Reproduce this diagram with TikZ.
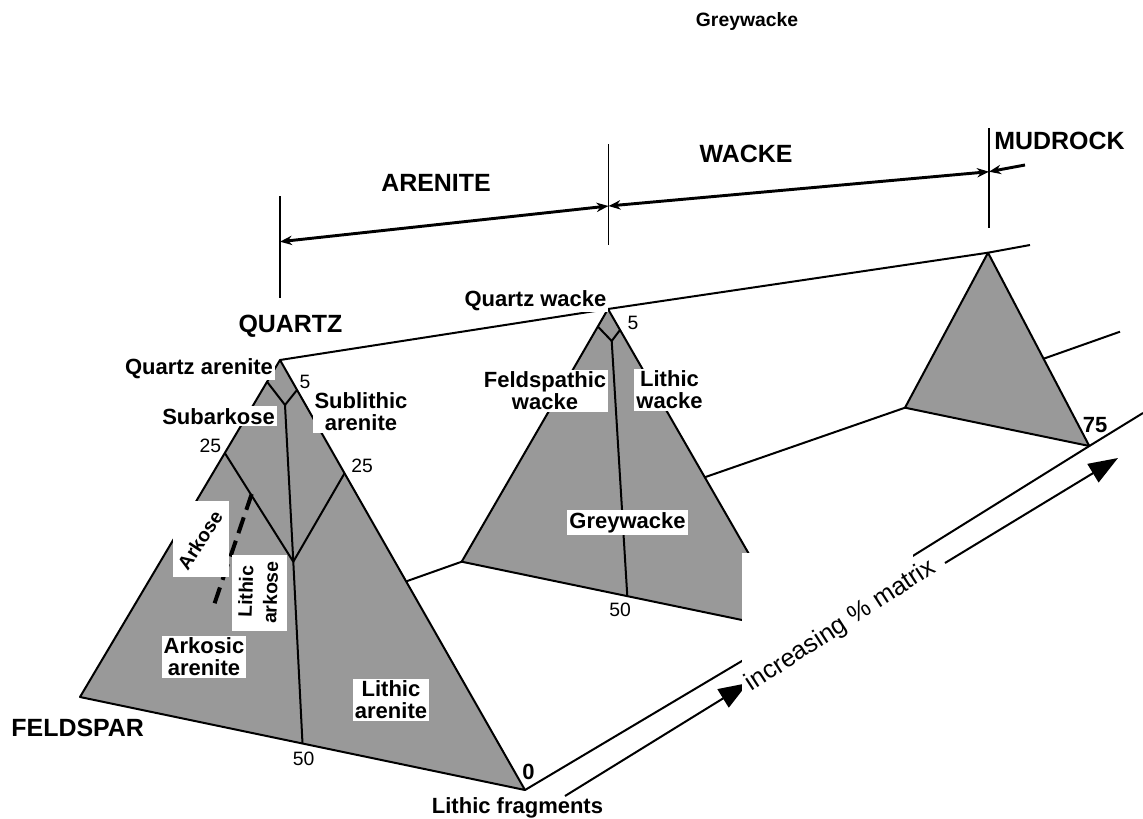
\documentclass[tikz,border=0pt]{standalone}
\usepackage{fontspec}
\setmainfont{Liberation Sans}
\usetikzlibrary{arrows.meta}
\definecolor{trigray}{HTML}{999999}
\begin{document}
\begin{tikzpicture}[x=0.75pt,y=-0.75pt,
  edge/.style={line width=1.5pt, line join=round},
  tri/.style={fill=trigray, draw=black, line width=1.5pt, line join=round},
  vline/.style={line width=1.1pt},
  harrow/.style={line width=2.2pt},
  bigarrow/.style={line width=1.5pt, -{Triangle[length=22pt,width=16pt]}},
  big/.style={font=\fontsize{18.7}{20}\selectfont\bfseries, inner sep=0pt},
  lab/.style={font=\fontsize{16.5}{16.5}\selectfont\bfseries, fill=white, inner sep=1.5pt, align=center},
  plainlab/.style={font=\fontsize{16.5}{16.5}\selectfont\bfseries, inner sep=0pt},
  num/.style={font=\fontsize{14.5}{15}\selectfont, inner sep=0pt},
  bnum/.style={font=\fontsize{16.5}{17}\selectfont\bfseries, inner sep=0pt},
  rotlab/.style={font=\fontsize{14.5}{18.5}\selectfont\bfseries, inner sep=0pt, align=center}
]
\useasboundingbox (0,0) rectangle (1143,818);
\fill[white] (0,0) rectangle (1143,818);

% corners
\coordinate (Q1) at (280,360);
\coordinate (F1) at (80,697);
\coordinate (L1) at (525,790);
\coordinate (Q2) at (608,309);
\coordinate (F2) at (461.7,561.7);
\coordinate (L2) at (793,630.6);
\coordinate (Q3) at (988,252.7);
\coordinate (F3) at (905,407.7);
\coordinate (L3) at (1089.3,446);
\coordinate (Tend) at (1030,245);
\coordinate (Fend) at (1120,331.7);
\coordinate (Aend) at (1143,413);

% connecting lines behind the triangles
\draw[edge] (Q1) -- (Q2) -- (Q3) -- (Tend);
\draw[edge] (F1) -- (F2) -- (F3) -- (Fend);
\draw[edge] (L1) -- (L2) -- (L3) -- (Aend);

% triangles
\filldraw[tri] (Q1) -- (F1) -- (L1) -- cycle;
\filldraw[tri] (Q2) -- (F2) -- (L2) -- cycle;
\filldraw[tri] (Q3) -- (F3) -- (L3) -- cycle;

% internal lines, triangle 1
\coordinate (a5l) at (267,381.7);
\coordinate (a5r) at (297,390);
\coordinate (a5c) at (285,405);
\coordinate (a25l) at (225,453.3);
\coordinate (a25r) at (344.5,473.3);
\coordinate (a25c) at (293.3,561.7);
\coordinate (aM) at (302.5,743.5);
\draw[edge] (a5l) -- (a5c) -- (a5r);
\draw[edge] (a5c) -- (a25c) -- (aM);
\draw[edge] (a25l) -- (a25c) -- (a25r);
\coordinate (d1) at (251.7,494);
\coordinate (d2) at (214,605);
\draw[line width=3pt, dash pattern=on 12.5pt off 6pt] (d1) -- (d2);

% internal lines, triangle 2
\coordinate (b5l) at (598,326.7);
\coordinate (b5r) at (620,330);
\coordinate (b5c) at (611.7,341);
\coordinate (bM) at (627.3,596.2);
\draw[edge] (b5l) -- (b5c) -- (b5r);
\draw[edge] (b5c) -- (bM);

% top scale
\coordinate (v1t) at (280,196);
\coordinate (v1b) at (280,298);
\coordinate (v2t) at (608.5,144);
\coordinate (v2b) at (608.5,245);
\coordinate (v3t) at (989,128);
\coordinate (v3b) at (989,228);
\coordinate (h1) at (280,241.7);
\coordinate (h2) at (608.5,206);
\coordinate (h3) at (989,171.7);
\coordinate (h4) at (1025,165);
\draw[vline] (v1t) -- (v1b);
\draw[vline] (v2t) -- (v2b);
\draw[vline] (v3t) -- (v3b);
\draw[harrow, {Stealth[length=9pt,width=7pt]}-{Stealth[length=9pt,width=7pt]}] (h1) -- (h2);
\draw[harrow, {Stealth[length=9pt,width=7pt]}-{Stealth[length=9pt,width=7pt]}] (h2) -- (h3);
\draw[harrow, {Stealth[length=9pt,width=7pt]}-] (h3) -- (h4);

% increasing matrix arrows
\coordinate (m1s) at (565,796);
\coordinate (m1e) at (748,683);
\coordinate (m2s) at (945,563);
\coordinate (m2e) at (1118,458);
\draw[bigarrow] (m1s) -- (m1e);
\fill[white] (742,553) rectangle (913,700);
\draw[bigarrow] (m2s) -- (m2e);
\node[font=\fontsize{19}{20}\selectfont, inner sep=0pt, rotate=33] (matrix) at (841,626) {increasing \% matrix};

% big labels
\node[font=\fontsize{14.5}{15}\selectfont\bfseries, inner sep=0pt, anchor=base] (gwtop) at (747,26.7) {Greywacke};
\node[big, anchor=base] (arenite) at (436,191) {ARENITE};
\node[big, anchor=base] (wacke) at (746,162) {WACKE};
\node[big, anchor=base] (mudrock) at (1059.5,149.3) {MUDROCK};
\node[big, anchor=base] (quartz) at (290.5,332) {QUARTZ};
\node[big, anchor=base] (feldspar) at (77.7,736.7) {FELDSPAR};
\node[plainlab, anchor=base] (lithfrag) at (517.5,813) {Lithic fragments};

% triangle 1 labels
\node[lab, anchor=base] (qa) at (199,374) {Quartz arenite};
\node[lab, anchor=base] (subark) at (218.5,424) {Subarkose};
\node[lab] (sublith) at (361,412) {Sublithic\\arenite};
\node[lab] (arkare) at (204,657) {Arkosic\\arenite};
\node[lab] (lithare) at (391,700) {Lithic\\arenite};
\fill[white] (173,501) rectangle (229,577);
\node[rotlab, rotate=57] (arkose) at (200,540) {Arkose};
\fill[white] (232,555) rectangle (287,631);
\node[rotlab, rotate=88] (lithark) at (258,592) {Lithic\\arkose};
\node[num] (n5a) at (305,381.7) {5};
\node[num] (n25l) at (210.5,446) {25};
\node[num] (n25r) at (362,466) {25};
\node[num] (n50a) at (303.6,759) {50};
\node[bnum] (n0) at (528.6,772) {0};

% triangle 2 labels
\node[lab, anchor=base] (qw) at (535.5,306) {Quartz wacke};
\node[lab] (fw) at (545,391) {Feldspathic\\wacke};
\node[lab] (lw) at (669.5,390) {Lithic\\wacke};
\node[lab] (gw) at (627.5,522.5) {Greywacke};
\node[num] (n5b) at (633,323) {5};
\node[num] (n50b) at (620,610) {50};

% triangle 3 label
\node[bnum] (n75) at (1095,425) {75};
\end{tikzpicture}
\end{document}
